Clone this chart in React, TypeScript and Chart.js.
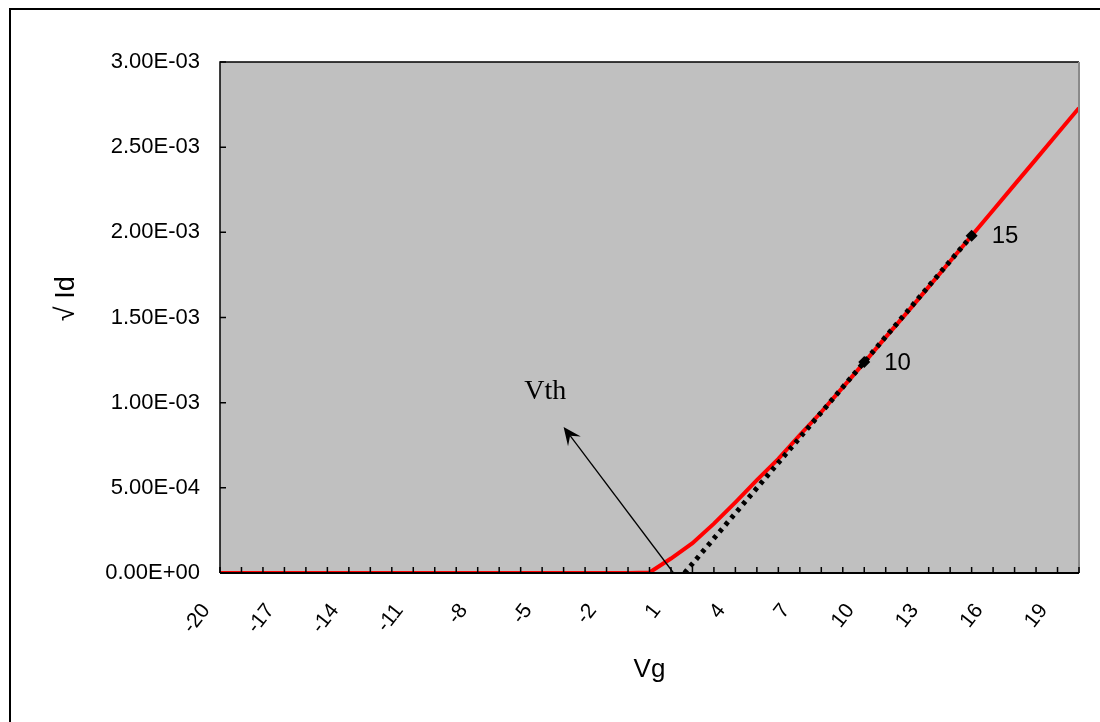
import { useEffect, useRef } from 'react';
import { Chart, registerables } from 'chart.js';

Chart.register(...registerables);

// Gate voltage (V) and sqrt(Id)
const vg = [
  -20, -19, -18, -17, -16, -15, -14, -13, -12, -11, -10, -9, -8, -7, -6, -5, -4, -3, -2, -1,
  0, 1, 2, 3, 4, 5, 6, 7, 8, 9, 10, 11, 12, 13, 14, 15, 16, 17, 18, 19, 20,
];
const sqrtId = [
  0, 0, 0, 0, 0, 0, 0, 0, 0, 0, 0, 0, 0, 0, 0, 0, 0, 0, 0, 0,
  0.000003, 0.000085, 0.000175, 0.00029, 0.000415, 0.000545, 0.00067, 0.00081, 0.000945, 0.00109,
  0.001235, 0.001385, 0.00153, 0.00168, 0.00183, 0.00198, 0.00213, 0.00228, 0.00243, 0.00258, 0.00273,
];

// Linear fit (dotted) from Vth up to Vg = 15
const fitX = [1.63, 10, 15];
const fitY = [0, 0.001239, 0.00198];
const fitPointRadius = [0, 6, 6];

// Tick labels
const xTickLabels = [-20, -17, -14, -11, -8, -5, -2, 1, 4, 7, 10, 13, 16, 19];
const yTickLabels = ['0.00E+00', '5.00E-04', '1.00E-03', '1.50E-03', '2.00E-03', '2.50E-03', '3.00E-03'];

// Annotations
const pointLabelText = ['10', '15'];
const pointLabelX = [10, 15];
const pointLabelY = [0.001239, 0.00198];
const vthText = 'Vth';
const vthTextPos = [-4.85, 0.001063];
const arrowFrom = [1.12, 0];
const arrowTo = [-4.0, 0.000857];

const SANS = '"Liberation Sans", Arial, sans-serif';
const SERIF = '"Liberation Serif", "Times New Roman", serif';

const decorPlugin = {
  id: 'decor',
  beforeDraw(chart: any) {
    const { ctx, chartArea: a, width, height } = chart;
    ctx.save();
    ctx.fillStyle = '#ffffff';
    ctx.fillRect(0, 0, width, height);
    ctx.fillStyle = '#C0C0C0';
    ctx.fillRect(a.left, a.top, a.right - a.left, a.bottom - a.top);
    ctx.restore();
  },
  afterDraw(chart: any) {
    const { ctx, chartArea: a, scales, width, height } = chart;
    const xs = scales.x;
    const ys = scales.y;
    ctx.save();
    // plot border
    ctx.strokeStyle = '#000000';
    ctx.lineWidth = 1.5;
    ctx.beginPath();
    ctx.moveTo(a.left, a.bottom);
    ctx.lineTo(a.left, a.top);
    ctx.lineTo(a.right, a.top);
    ctx.stroke();
    ctx.strokeStyle = '#8a8a8a';
    ctx.lineWidth = 2;
    ctx.beginPath();
    ctx.moveTo(a.right, a.top);
    ctx.lineTo(a.right, a.bottom);
    ctx.stroke();
    ctx.strokeStyle = '#000000';
    ctx.lineWidth = 2;
    ctx.beginPath();
    ctx.moveTo(a.left, a.bottom);
    ctx.lineTo(a.right, a.bottom);
    ctx.stroke();
    // inward tick marks
    ctx.lineWidth = 1.5;
    ctx.beginPath();
    xs.ticks.forEach((t: any) => {
      const px = xs.getPixelForValue(t.value);
      ctx.moveTo(px, a.bottom);
      ctx.lineTo(px, a.bottom - 6);
    });
    ys.ticks.forEach((t: any) => {
      const py = ys.getPixelForValue(t.value);
      ctx.moveTo(a.left, py);
      ctx.lineTo(a.left + 6, py);
    });
    ctx.stroke();
    // outer frame
    ctx.strokeStyle = '#000000';
    ctx.lineWidth = 2;
    ctx.beginPath();
    ctx.moveTo(10, height);
    ctx.lineTo(10, 9);
    ctx.lineTo(width, 9);
    ctx.stroke();

    // arrow
    const x1 = xs.getPixelForValue(arrowFrom[0]);
    const y1 = ys.getPixelForValue(arrowFrom[1]);
    const x2 = xs.getPixelForValue(arrowTo[0]);
    const y2 = ys.getPixelForValue(arrowTo[1]);
    const ang = Math.atan2(y2 - y1, x2 - x1);
    const headLen = 18;
    const headW = 8;
    ctx.strokeStyle = '#000000';
    ctx.lineWidth = 1.3;
    ctx.beginPath();
    ctx.moveTo(x1, y1);
    ctx.lineTo(x2 - Math.cos(ang) * headLen * 0.6, y2 - Math.sin(ang) * headLen * 0.6);
    ctx.stroke();
    ctx.fillStyle = '#000000';
    ctx.beginPath();
    ctx.moveTo(x2, y2);
    ctx.lineTo(
      x2 - Math.cos(ang) * headLen + Math.sin(ang) * headW,
      y2 - Math.sin(ang) * headLen - Math.cos(ang) * headW
    );
    ctx.lineTo(x2 - Math.cos(ang) * headLen * 0.6, y2 - Math.sin(ang) * headLen * 0.6);
    ctx.lineTo(
      x2 - Math.cos(ang) * headLen - Math.sin(ang) * headW,
      y2 - Math.sin(ang) * headLen + Math.cos(ang) * headW
    );
    ctx.closePath();
    ctx.fill();

    // Vth label
    ctx.font = `28px ${SERIF}`;
    ctx.textAlign = 'center';
    ctx.textBaseline = 'middle';
    ctx.fillStyle = '#000000';
    ctx.fillText(vthText, xs.getPixelForValue(vthTextPos[0]), ys.getPixelForValue(vthTextPos[1]));

    // point labels
    ctx.font = `24px ${SANS}`;
    ctx.textAlign = 'left';
    pointLabelText.forEach((txt, i) => {
      ctx.fillText(txt, xs.getPixelForValue(pointLabelX[i]) + 20, ys.getPixelForValue(pointLabelY[i]) + 1);
    });
    ctx.restore();
  },
};

export default function App() {
  const ref = useRef<HTMLCanvasElement | null>(null);
  useEffect(() => {
    if (!ref.current) return;
    const chart = new Chart(ref.current, {
      type: 'line',
      data: {
        datasets: [
          {
            label: 'fit',
            data: fitX.map((x, i) => ({ x, y: fitY[i] })),
            borderColor: '#000000',
            backgroundColor: '#000000',
            borderWidth: 5,
            borderDash: [4, 5],
            pointRadius: fitPointRadius,
            pointStyle: 'rectRot',
            pointBorderWidth: 0,
            fill: false,
          },
          {
            label: 'sqrt Id',
            data: vg.map((x, i) => ({ x, y: sqrtId[i] })),
            borderColor: '#FF0000',
            backgroundColor: '#FF0000',
            borderWidth: 4,
            pointRadius: 0,
            fill: false,
            tension: 0,
          },
        ],
      },
      options: {
        responsive: false,
        animation: false,
        layout: { padding: { left: 10, top: 62, right: 21, bottom: 0 } },
        plugins: { legend: { display: false }, tooltip: { enabled: false } },
        scales: {
          x: {
            type: 'linear',
            min: -20,
            max: 20,
            grid: { display: false, drawTicks: false },
            border: { display: false },
            afterFit: (s: any) => {
              s.height = 149;
              s.paddingLeft = 0;
              s.paddingRight = 0;
            },
            ticks: {
              stepSize: 1,
              autoSkip: false,
              minRotation: 52,
              maxRotation: 52,
              padding: 26,
              labelOffset: -14,
              color: '#000000',
              font: { family: SANS, size: 21 },
              callback: (v: any) => (xTickLabels.includes(Math.round(Number(v))) ? String(Math.round(Number(v))) : ''),
            },
            title: {
              display: true,
              text: 'Vg',
              color: '#000000',
              font: { family: SANS, size: 26 },
              padding: { top: 0, bottom: 37 },
            },
          },
          y: {
            min: 0,
            max: 0.003,
            grid: { display: false, drawTicks: false },
            border: { display: false },
            afterFit: (s: any) => {
              s.width = 210;
              s.paddingTop = 0;
              s.paddingBottom = 0;
            },
            ticks: {
              stepSize: 0.0005,
              padding: 20,
              color: '#000000',
              font: { family: SANS, size: 22 },
              callback: (v: any) => yTickLabels[Math.round(Number(v) / 0.0005)] ?? '',
            },
            title: {
              display: true,
              text: '     √ Id',
              color: '#000000',
              font: { family: SANS, size: 27 },
              padding: { top: 40, bottom: 0 },
            },
          },
        },
      },
      plugins: [decorPlugin],
    });
    return () => chart.destroy();
  }, []);
  return (
    <div style={{ position: 'absolute', left: 0, top: 0, width: 1100, height: 722 }}>
      <canvas ref={ref} width={1100} height={722} style={{ width: 1100, height: 722 }} />
    </div>
  );
}
